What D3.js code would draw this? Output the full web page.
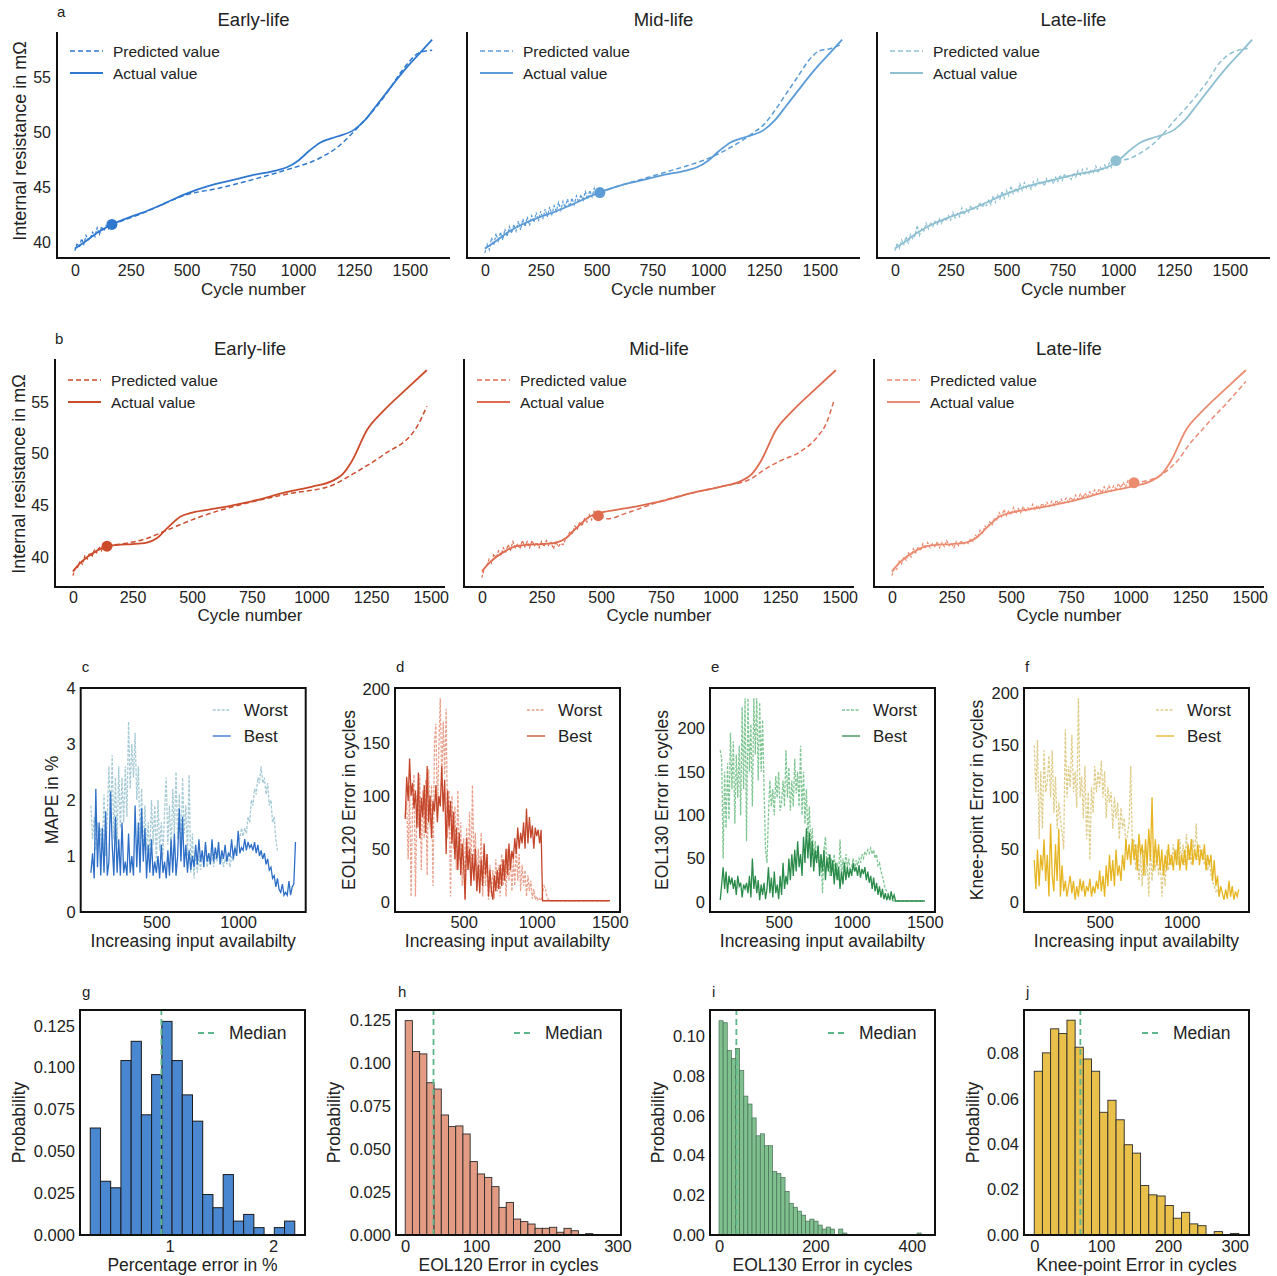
<!DOCTYPE html>
<html>
<head>
<meta charset="utf-8">
<script src="https://cdn.jsdelivr.net/npm/d3@7"></script>
<style>
  body { margin: 0; background: #fff; }
  svg { display: block; }
</style>
</head>
<body>
<svg id="fig" width="1277" height="1276"></svg>
<script>
// ---------------- Resistance trajectories (rows a and b) ----------------
const cycleTicks = [0, 250, 500, 750, 1000, 1250, 1500];
const resistanceTicks = [40, 45, 50, 55];
const stageTitles = ["Early-life", "Mid-life", "Late-life"];
const INPUT_STEP = 10; // measured inputs are sampled every 10 cycles from cycle 0

// cell a: measured/actual resistance (mΩ) vs cycle
const actualA = [[0,39.4],[50,40.1],[100,40.85],[166,41.6],[250,42.3],[300,42.65],[400,43.5],[500,44.4],[600,45.1],[700,45.6],[800,46.1],[900,46.5],[950,46.8],[1000,47.4],[1050,48.3],[1100,49.05],[1175,49.6],[1250,50.2],[1300,51.1],[1350,52.4],[1400,53.7],[1450,55.0],[1500,56.2],[1550,57.3],[1600,58.4]];
const inputA1 = [39.2,39.9,39.5,40.3,39.8,40.6,40.2,40.4,40.9,40.5,41.3,40.7,41.4,41.0,41.5,41.2,41.6];
const inputA2 = [39.0,39.8,39.3,40.4,39.7,40.8,40.0,40.9,40.2,41.2,40.5,41.4,40.8,41.6,41.0,41.9,41.1,42.1,41.4,42.3,41.5,42.4,41.8,42.7,41.9,42.8,42.1,43.0,42.3,43.2,42.5,43.3,42.8,43.6,42.9,43.7,43.1,43.9,43.2,44.0,43.4,44.2,43.6,44.3,43.8,44.6,43.9,44.7,44.1,44.9,44.3,44.6];
const inputA3 = [39.2,39.9,39.4,40.2,39.8,40.5,39.9,40.7,40.3,40.6,41.5,40.6,41.2,41.0,41.7,41.2,41.8,41.4,41.9,41.6,42.1,41.7,42.2,41.9,42.4,42.0,42.7,42.2,42.6,42.3,43.1,42.5,43.0,42.7,43.3,42.9,43.2,43.0,43.6,43.2,43.4,43.3,43.8,43.4,44.2,43.6,44.3,43.9,44.6,44.0,44.7,44.2,45.1,44.4,44.9,44.5,45.3,44.7,45.4,44.9,45.2,44.8,45.5,45.0,45.7,45.2,45.5,45.1,45.8,45.4,45.7,45.3,45.9,45.5,46.1,45.6,46.2,45.8,46.0,45.7,46.3,45.9,46.5,46.0,46.6,46.1,46.7,46.2,46.6,46.3,46.9,46.3,46.8,46.5,47.0,46.7,47.2,46.8,47.6,47.3];
const forecastA1 = [[166,41.6],[300,42.6],[500,44.3],[645,44.9],[800,45.7],[945,46.55],[1093,47.6],[1168,48.5],[1257,50.2],[1392,53.4],[1466,55.6],[1541,57.2],[1600,57.45]];
const forecastA2 = [[515,44.5],[600,45.1],[700,45.7],[800,46.3],[900,46.9],[1000,47.6],[1100,48.6],[1200,49.9],[1250,50.7],[1300,52.0],[1350,53.5],[1400,55.0],[1450,56.5],[1500,57.4],[1550,57.6],[1600,58.0]];
const forecastA3 = [[990,47.4],[1050,47.6],[1100,48.1],[1150,48.8],[1200,49.8],[1250,51.0],[1300,52.1],[1350,53.3],[1400,54.6],[1450,56.2],[1500,57.1],[1550,57.5],[1580,57.6]];
const startA = [[166,41.6],[515,44.5],[990,47.4]];

// cell b
const actualB = [[0,38.6],[30,39.4],[60,40.0],[100,40.6],[143,41.05],[200,41.2],[250,41.25],[310,41.4],[350,41.8],[400,42.9],[450,43.9],[500,44.3],[600,44.7],[750,45.4],[900,46.3],[1000,46.8],[1090,47.4],[1130,48.0],[1170,49.3],[1233,52.3],[1300,54.1],[1400,56.3],[1484,58.1]];
const inputB1 = [38.2,38.9,39.0,39.6,39.3,40.1,39.8,40.4,40.0,40.7,40.4,41.0,40.6,41.2,41.0];
const inputB2 = [38.0,38.9,39.1,39.8,39.4,40.3,39.9,40.6,40.2,40.9,40.5,41.2,40.7,41.5,40.9,41.3,40.8,41.6,41.0,41.5,40.9,41.6,41.1,41.4,40.9,41.5,41.0,41.6,41.1,41.4,40.8,41.5,41.0,41.3,41.2,41.7,42.0,42.5,42.3,43.0,42.7,43.4,43.0,43.7,43.4,44.1,43.6,44.4,43.9,44.3];
const inputB3 = [38.2,38.9,38.8,39.6,39.3,40.0,39.7,40.4,40.0,40.8,40.4,41.0,40.6,41.3,40.8,41.4,40.9,41.3,41.0,41.5,40.9,41.4,41.0,41.6,41.1,41.3,40.9,41.5,41.1,41.6,41.2,41.5,41.3,41.8,41.5,42.1,41.9,42.6,42.3,43.0,42.8,43.4,43.1,43.8,43.6,44.3,43.9,44.6,44.0,44.5,44.1,44.8,44.2,44.7,44.3,44.9,44.4,44.8,44.5,45.1,44.6,45.0,44.7,45.2,44.8,45.3,44.9,45.4,45.0,45.5,45.1,45.6,45.2,45.7,45.3,45.8,45.4,46.0,45.6,46.1,45.7,46.2,45.8,46.3,46.0,46.5,46.1,46.6,46.2,46.8,46.3,46.9,46.4,46.9,46.6,47.1,46.7,47.2,46.8,47.4,47.0,47.2];
const forecastB1 = [[143,41.1],[310,41.8],[394,42.6],[534,43.9],[743,45.3],[900,46.1],[1093,47.0],[1163,47.9],[1302,49.9],[1442,52.6],[1484,54.6]];
const forecastB2 = [[490,44.0],[530,43.7],[600,44.2],[750,45.4],[900,46.3],[1000,46.8],[1130,47.6],[1180,48.4],[1250,49.3],[1335,50.2],[1405,51.6],[1445,53.0],[1474,55.0]];
const forecastB3 = [[1015,47.2],[1100,47.6],[1150,48.3],[1200,49.4],[1250,51.0],[1300,52.3],[1350,53.6],[1400,54.8],[1450,56.1],[1484,57.0]];
const startB = [[143,41.05],[488,44.0],[1015,47.2]];

// ---------------- Error vs. input availability (c-f) ----------------
const SWEEP_START = 100, SWEEP_STEP = 10;
const mapeBest = [0.7,1.05,0.6,2.2,0.8,1.6,0.65,1.5,0.7,1.8, 0.65,0.9,2.15,1.2,0.65,1.7,0.7,1.3,0.65,1.6, 0.7,0.9,0.65,1.4,0.7,1.0,0.65,1.9,0.8,1.6, 0.7,1.85,0.9,1.5,0.6,1.2,0.7,1.3,0.65,0.9, 0.7,1.0,0.6,1.2,0.7,0.9,0.6,1.1,0.65,1.3, 0.7,1.4,0.65,1.0,1.85,0.9,1.7,0.8,1.2,0.7, 1.1,0.75,1.0,0.8,1.2,0.85,1.3,0.9,1.1,0.8, 1.25,0.9,1.05,0.85,1.3,0.9,1.15,0.95,1.25,0.85, 1.1,0.95,1.2,0.9,1.05,1.0,1.3,0.95,1.15,1.0, 1.45,1.05,1.15,1.1,1.3,1.1,1.25,1.15,1.2,1.1, 1.25,1.05,1.2,1.0,1.1,0.95,1.05,0.85,0.95,0.75, 0.8,0.6,0.65,0.45,0.6,0.4,0.35,0.5,0.3,0.35, 0.3,0.55,0.3,0.45,0.5,1.25];
const mapeWorst = [1.9,1.3,1.7,1.1,1.6,1.2,1.5,1.1,2.1,1.0, 1.7,2.6,1.6,2.8,1.3,2.4,1.2,2.6,1.5,2.4, 1.6,2.6,1.7,3.4,2.2,3.0,2.4,3.2,2.0,2.6, 1.3,2.2,1.0,1.9,1.1,1.6,1.0,2.0,1.2,1.9, 0.9,2.0,1.1,1.6,1.0,1.8,2.4,1.2,1.9,1.0, 2.2,1.4,2.5,1.3,2.1,1.0,2.4,1.4,1.9,1.0, 2.45,0.7,1.4,0.6,1.1,0.7,1.0,0.75,1.1,0.9, 1.2,0.8,1.0,0.85,1.1,0.8,1.0,0.9,1.1,0.85, 1.0,0.8,0.95,0.85,1.05,0.8,1.0,0.9,1.2,1.0, 1.4,1.3,1.5,1.35,1.5,1.4,1.7,1.6,2.0,1.9, 2.2,2.1,2.4,2.3,2.6,2.3,2.4,2.1,2.3,1.9, 2.0,1.6,1.7,1.3,1.1];
const eol120Best = [78,118,95,135,100,112,88,105,70,122, 60,98,80,110,65,128,75,100,60,95, 85,110,75,100,90,128,85,115,45,105, 70,95,55,85,40,70,30,65,25,55, 35,2,60,30,50,15,45,20,50,10, 35,8,40,15,55,25,45,5,30,10, 2,25,10,30,12,35,15,40,20,50, 25,55,30,48,40,60,45,70,50,65, 55,75,50,88,55,80,60,72,50,70, 62,68,55,68, 1,1,1,1,1,1, 1,1,1,1,1,1,1,1,1,1, 1,1,1,1,1,1,1,1,1,1, 1,1,1,1,1,1,1,1,1,1, 1,1,1,1,1,1,1,1,1,1, 1];
const eol120Worst = [80,95,40,110,5,90,120,5,100,70, 120,30,105,60,115,25,125,70,110,15, 150,168,80,145,192,110,170,120,182,60, 105,5,100,50,90,30,105,40,75,15, 60,2,70,30,85,20,110,40,65,10, 50,25,65,5,40,15,45,2,35,5, 30,3,40,10,35,5,45,15,40,5, 50,20,45,10,40,15,55,20,45,10, 35,15,30,5,25,10,20,3,12,2, 5,1,3,1,8,15,12,5,2,1, 1,1,1,1,1,1,1,1,1,1, 1,1,1,1,1,1,1,1,1,1, 1,1,1,1,1,1,1,1,1,1, 1,1,1,1,1,1,1,1,1,1, 1];
const eol130Best = [2,20,40,15,35,10,30,20,28,15, 25,8,30,18,22,5,20,15,22,10, 30,5,50,15,30,10,25,2,20,8, 22,3,15,40,10,28,5,35,10,20, 3,30,8,45,15,30,20,50,25,55, 30,60,35,70,40,55,30,75,45,85, 50,80,40,70,35,60,45,65,30,55, 35,60,25,50,35,55,30,48,20,45, 25,40,15,35,20,45,25,40,28,38, 30,45,35,40,30,42,28,38,32,40, 25,35,22,30,15,28,12,22,8,18, 5,15,3,10,2,8,2,12,3,8, 1, 1,1,1,1,1,1,1,1,1,1, 1,1,1,1,1,1,1,1,1,1];
const eol130Worst = [175,165,50,150,85,160,95,195,130,185, 90,170,120,180,100,225,130,235,70,235, 150,205,110,235,170,235,140,230, 150,210,130,60,45,100,140,110,130,100, 145,120,150,105,115,140,110,175,120,155, 105,140,110,165,125,150,110,180,100,150, 90,130,75,110,60,85,45,70,50,65, 40,55,10,60,75,40,55,30,50,35, 55,30,45,25,72,30,50,35,55,40, 50,35, 40,50,35,48,42,50,45,55,50,58, 55,60,56,62,55,60,50,55,42,45, 35,30,22,15,12,8,5,3,2, 1,1,1,1,1,1,1,1,1,1,1, 1,1,1,1,1,1,1,1,1,1,1];
const kneeBest = [40,12,50,15,45,30,60,20,45,5, 75,25,10,55,20,70,5,35,10,20, 5,15,25,8,20,2,15,5,22,10, 20,5,15,10,22,5,15,8,20,12, 30,10,25,5,35,15,45,20,40,15, 50,25,35,20,45,30,60,40,55,35, 60,40,55,30,65,45,55,25,60,35, 70,40,100,30,60,35,55,30,50,25, 45,30,55,35,45,30,50,35,60,30, 45,35,50,30,55,40,60,35,50,40, 55,35,50,40,55,30,45,35,45,20, 40,15,25,5,15,8,2,12,3,20, 5,15,2,10,5,12];
const kneeWorst = [150,105,155,60,125,70,145,105,115,140, 100,145,85,120,70,95,80,65,50,165, 100,130,110,160,105,125,90,195,100,120, 80,130,60,105,40,110,85,130,105,125, 110,135,100,125,80,110,95,105,70,100, 80,95,60,90,70,80,55,65,75,130, 50,60,30,55,20,45,15,50,25,40, 5,55,20,45,30,50,25,40,5,35, 15,50,30,45,35,55,40,50,35,60, 40,55,35,65,40,50,35,60,45,75, 40,55,45,50,35,45,30,40,25,20, 15,10,12,5];

// ---------------- Error distributions (g-j) ----------------
const pctErrProb = [0.0639,0.0321,0.0282,0.1042,0.1157,0.0718,0.0958,0.1276,0.1042,0.0837,0.068,0.0242,0.0163,0.0361,0.0083,0.0123,0.0044,0,0.0044,0.0083];
const pctErrBins = {start: 0.232, width: 0.0989}, pctErrMedian = 0.92;
const eol120Prob = [0.125,0.107,0.1056,0.0888,0.0851,0.070,0.0632,0.0636,0.0589,0.0428,0.0356,0.0336,0.0282,0.0161,0.019,0.0093,0.0078,0.0064,0.0039,0.0039,0.0045,0.0016,0.0039,0.0025,0,0.0008];
const eol120Bins = {start: 0, width: 10.2}, eol120Median = 40;
const eol130Prob = [0.108,0.107,0.093,0.089,0.094,0.083,0.070,0.066,0.059,0.050, 0.051,0.045,0.045,0.032,0.031,0.029,0.022,0.016,0.014,0.012, 0.010,0.007,0.008,0.007,0.005,0.003,0.004,0.003,0,0.003, 0.001,0,0,0,0,0,0,0,0,0, 0,0,0,0,0,0,0,0,0.001,0];
const eol130Bins = {start: 0, width: 8.56}, eol130Median = 36;
const kneeProb = [0.0722,0.0803,0.0909,0.0888,0.0947,0.0828,0.0776,0.0722,0.0541,0.0594,0.0508,0.0398,0.0361,0.0218,0.0177,0.0172,0.013,0.0074,0.01,0.0049,0.0041,0,0.0015,0,0.0007];
const kneeBins = {start: 0, width: 12.24}, kneeMedian = 69;

// ---------------- drawing ----------------
const FONT = '"Liberation Sans", Arial, Helvetica, sans-serif';
const INK = "#222";
const SPINE = "#111";
const intFmt = d3.format("d");
const svg = d3.select("#fig");

function label(x, y, s, size, anchor = "start", rotate = false) {
  const t = svg.append("text")
    .attr("font-family", FONT).attr("font-size", size)
    .attr("fill", INK).attr("text-anchor", anchor).text(s);
  if (rotate) t.attr("transform", `translate(${x},${y}) rotate(-90)`);
  else t.attr("x", x).attr("y", y);
  return t;
}

function tidyAxis(sel, size) {
  sel.select(".domain").remove();
  sel.attr("font-family", FONT).attr("font-size", size);
  sel.selectAll("text").attr("fill", INK);
}

function legendEntry(g, x, len, y, color, dash, width, textX, s, size) {
  g.append("line").attr("x1", x).attr("x2", x + len).attr("y1", y).attr("y2", y)
    .attr("stroke", color).attr("stroke-width", width).attr("stroke-dasharray", dash);
  g.append("text").attr("x", textX).attr("y", y + size * 0.36)
    .attr("font-family", FONT).attr("font-size", size).attr("fill", INK).text(s);
}

function lifePanel(p) {
  const g = svg.append("g");
  const x = d3.scaleLinear().domain(p.xDomain).range([p.left, p.left + p.width]);
  const y = d3.scaleLinear().domain(p.yDomain).range([p.bottom, p.top]);
  const xa = g.append("g").attr("transform", `translate(0,${p.bottom})`)
    .call(d3.axisBottom(x).tickValues(cycleTicks).tickFormat(intFmt).tickSize(0).tickPadding(p.xPad));
  tidyAxis(xa, 16);
  if (p.showY) {
    const ya = g.append("g").attr("transform", `translate(${p.left},0)`)
      .call(d3.axisLeft(y).tickValues(resistanceTicks).tickFormat(intFmt).tickSize(0).tickPadding(6));
    tidyAxis(ya, 16);
  }
  g.append("path").attr("d", `M${p.left},${p.top}V${p.bottom}H${p.left + p.width}`)
    .attr("fill", "none").attr("stroke", SPINE).attr("stroke-width", 2);

  const smooth = d3.line().x(d => x(d[0])).y(d => y(d[1])).curve(d3.curveMonotoneX);
  const raw = d3.line().x(d => x(d[0])).y(d => y(d[1]));
  g.append("path").datum(p.actual).attr("d", smooth)
    .attr("fill", "none").attr("stroke", p.color).attr("stroke-width", 1.8);
  const measured = p.input.map((v, i) => [i * INPUT_STEP, v]);
  g.append("path").datum(measured).attr("d", raw)
    .attr("fill", "none").attr("stroke", p.color).attr("stroke-width", 1.2)
    .attr("stroke-dasharray", "3,1.5");
  g.append("path").datum(p.forecast).attr("d", smooth)
    .attr("fill", "none").attr("stroke", p.color).attr("stroke-width", 1.5)
    .attr("stroke-dasharray", "5,3");
  g.append("circle").attr("cx", x(p.start[0])).attr("cy", y(p.start[1]))
    .attr("r", 5.5).attr("fill", p.color);

  legendEntry(g, p.left + 13, 33, p.legendY, p.color, "5,3", 1.5, p.left + 56, "Predicted value", 15.5);
  legendEntry(g, p.left + 13, 33, p.legendY + 22, p.color, null, 1.8, p.left + 56, "Actual value", 15.5);

  const cx = p.left + p.width / 2;
  label(cx, p.titleY, p.title, 18.5, "middle");
  label(cx, p.xLabelY, "Cycle number", 17, "middle");
}

// row a
const colorsA = ["#2f78d0", "#5b9bd6", "#8fc0d2"];
const inputsA = [inputA1, inputA2, inputA3];
const forecastsA = [forecastA1, forecastA2, forecastA3];
[57, 467, 877].forEach((left, i) => lifePanel({
  left, width: 393, top: 32, bottom: 258, xDomain: [-80, 1680], yDomain: [38.55, 59.1],
  xPad: 7, showY: i === 0, color: colorsA[i], actual: actualA, input: inputsA[i],
  forecast: forecastsA[i], start: startA[i], legendY: 51, title: stageTitles[i],
  titleY: 26, xLabelY: 295
}));
label(26, 141, "Internal resistance in mΩ", 18, "middle", true);
label(57, 17, "a", 15);

// row b
const colorsB = ["#cc4b2a", "#de6b4e", "#eb8b70"];
const inputsB = [inputB1, inputB2, inputB3];
const forecastsB = [forecastB1, forecastB2, forecastB3];
[55, 464, 874].forEach((left, i) => lifePanel({
  left, width: 390, top: 359, bottom: 587, xDomain: [-75, 1560], yDomain: [37.1, 59.17],
  xPad: 5, showY: i === 0, color: colorsB[i], actual: actualB, input: inputsB[i],
  forecast: forecastsB[i], start: startB[i], legendY: 380, title: stageTitles[i],
  titleY: 355, xLabelY: 621
}));
label(25, 474, "Internal resistance in mΩ", 18, "middle", true);
label(55, 344, "b", 15);

// boxed panels
function boxed(g, left, top, w, h) {
  g.append("rect").attr("x", left).attr("y", top).attr("width", w).attr("height", h)
    .attr("fill", "none").attr("stroke", SPINE).attr("stroke-width", 2);
}

function sweepPanel(p) {
  const g = svg.append("g");
  const W = 225, top = 688, bottom = 912;
  const x = d3.scaleLinear().domain(p.xDomain).range([p.left, p.left + W]);
  const y = d3.scaleLinear().domain(p.yDomain).range([bottom, top]);
  const line = d3.line().x(d => x(d[0])).y(d => y(d[1]));
  const pts = arr => arr.map((v, i) => [SWEEP_START + i * SWEEP_STEP, v]);
  g.append("path").datum(pts(p.worst)).attr("d", line).attr("fill", "none")
    .attr("stroke", p.worstColor).attr("stroke-width", 1.3).attr("stroke-dasharray", "3,1.5");
  g.append("path").datum(pts(p.best)).attr("d", line).attr("fill", "none")
    .attr("stroke", p.bestColor).attr("stroke-width", 1.3);
  const xa = g.append("g").attr("transform", `translate(0,${bottom})`)
    .call(d3.axisBottom(x).tickValues(p.xTicks).tickFormat(intFmt).tickSize(0).tickPadding(4));
  tidyAxis(xa, 16.5);
  const ya = g.append("g").attr("transform", `translate(${p.left},0)`)
    .call(d3.axisLeft(y).tickValues(p.yTicks).tickFormat(intFmt).tickSize(0).tickPadding(5));
  tidyAxis(ya, 16.5);
  boxed(g, p.left, top, W, bottom - top);
  const R = p.left + W;
  legendEntry(g, R - 93, 18, 710, p.worstColor, "3,1.5", 1.3, R - 62, "Worst", 17);
  legendEntry(g, R - 93, 18, 736, p.bestColor, null, 1.3, R - 62, "Best", 17);
  label(p.left + W / 2, 947, "Increasing input availabilty", 17.5, "middle");
  label(p.left - p.yLabelOff, (top + bottom) / 2, p.yLabel, 17.5, "middle", true);
  label(p.left + 1, 672, p.letter, 15);
}

sweepPanel({ left: 80.7, xDomain: [37.5, 1412.5], yDomain: [0, 4], xTicks: [500, 1000], yTicks: [0, 1, 2, 3, 4],
  best: mapeBest, worst: mapeWorst, bestColor: "#2e6fc7", worstColor: "#a6cad6", yLabel: "MAPE in %", yLabelOff: 23, letter: "c" });
sweepPanel({ left: 395, xDomain: [30, 1570], yDomain: [-9.6, 201.6], xTicks: [500, 1000, 1500], yTicks: [0, 50, 100, 150, 200],
  best: eol120Best, worst: eol120Worst, bestColor: "#c4462a", worstColor: "#eaa28e", yLabel: "EOL120 Error in cycles", yLabelOff: 40, letter: "d" });
sweepPanel({ left: 710, xDomain: [30, 1570], yDomain: [-11.7, 246.7], xTicks: [500, 1000, 1500], yTicks: [0, 50, 100, 150, 200],
  best: eol130Best, worst: eol130Worst, bestColor: "#2a8b4a", worstColor: "#7fc692", yLabel: "EOL130 Error in cycles", yLabelOff: 42, letter: "e" });
sweepPanel({ left: 1024, xDomain: [37.5, 1412.5], yDomain: [-9.75, 204.75], xTicks: [500, 1000], yTicks: [0, 50, 100, 150, 200],
  best: kneeBest, worst: kneeWorst, bestColor: "#e6b521", worstColor: "#e0cd8c", yLabel: "Knee-point Error in cycles", yLabelOff: 41, letter: "f" });

function histPanel(p) {
  const g = svg.append("g");
  const W = 225, top = 1010, bottom = 1235;
  const x = d3.scaleLinear().domain(p.xDomain).range([p.left, p.left + W]);
  const y = d3.scaleLinear().domain(p.yDomain).range([bottom, top]);
  const bins = p.prob.map((v, i) => ({ x0: p.bins.start + i * p.bins.width, x1: p.bins.start + (i + 1) * p.bins.width, v }))
    .filter(b => b.v > 0);
  g.selectAll("rect.bar").data(bins).join("rect").attr("class", "bar")
    .attr("x", b => x(b.x0)).attr("width", b => x(b.x1) - x(b.x0))
    .attr("y", b => y(b.v)).attr("height", b => y(0) - y(b.v))
    .attr("fill", p.fill).attr("stroke", p.edge).attr("stroke-width", p.edgeWidth);
  g.append("line").attr("x1", x(p.median)).attr("x2", x(p.median)).attr("y1", bottom).attr("y2", top)
    .attr("stroke", "#5cb88c").attr("stroke-width", 1.8).attr("stroke-dasharray", "6,4");
  const xa = g.append("g").attr("transform", `translate(0,${bottom})`)
    .call(d3.axisBottom(x).tickValues(p.xTicks).tickFormat(intFmt).tickSize(0).tickPadding(5));
  tidyAxis(xa, 16.5);
  const ya = g.append("g").attr("transform", `translate(${p.left},0)`)
    .call(d3.axisLeft(y).tickValues(p.yTicks).tickFormat(d3.format(p.yFormat)).tickSize(0).tickPadding(5));
  tidyAxis(ya, 16.5);
  boxed(g, p.left, top, W, bottom - top);
  const R = p.left + W;
  g.append("line").attr("x1", R - 107).attr("x2", R - 89).attr("y1", 1033).attr("y2", 1033)
    .attr("stroke", "#5cb88c").attr("stroke-width", 1.8).attr("stroke-dasharray", "6,4");
  label(R - 76, 1039, "Median", 17.5);
  label(p.left + W / 2, 1271, p.xLabel, 17.5, "middle");
  label(p.left - p.yLabelOff, (top + bottom) / 2, "Probability", 17.5, "middle", true);
  label(p.left + 2, 997, p.letter, 15);
}

const probTicks3 = [0, 0.025, 0.05, 0.075, 0.1, 0.125];
histPanel({ left: 80, xDomain: [0.133, 2.309], yDomain: [0, 0.1344], xTicks: [1, 2], yTicks: probTicks3, yFormat: ".3f",
  prob: pctErrProb, bins: pctErrBins, median: pctErrMedian, fill: "#4a87d1", edge: "#1b1b1b", edgeWidth: 1,
  xLabel: "Percentage error in %", yLabelOff: 55, letter: "g" });
histPanel({ left: 396, xDomain: [-13, 305], yDomain: [0, 0.1312], xTicks: [0, 100, 200, 300], yTicks: probTicks3, yFormat: ".3f",
  prob: eol120Prob, bins: eol120Bins, median: eol120Median, fill: "#e49b84", edge: "#2b2b2b", edgeWidth: 0.9,
  xLabel: "EOL120 Error in cycles", yLabelOff: 56, letter: "h" });
histPanel({ left: 710, xDomain: [-18.7, 448], yDomain: [0, 0.1134], xTicks: [0, 200, 400], yTicks: [0, 0.02, 0.04, 0.06, 0.08, 0.1], yFormat: ".2f",
  prob: eol130Prob, bins: eol130Bins, median: eol130Median, fill: "#7fc08f", edge: "#4a6e55", edgeWidth: 0.7,
  xLabel: "EOL130 Error in cycles", yLabelOff: 46, letter: "i" });
histPanel({ left: 1024, xDomain: [-15.3, 321.3], yDomain: [0, 0.0992], xTicks: [0, 100, 200, 300], yTicks: [0, 0.02, 0.04, 0.06, 0.08], yFormat: ".2f",
  prob: kneeProb, bins: kneeBins, median: kneeMedian, fill: "#e8c04a", edge: "#2b2b2b", edgeWidth: 0.9,
  xLabel: "Knee-point Error in cycles", yLabelOff: 45, letter: "j" });
</script>
</body>
</html>
